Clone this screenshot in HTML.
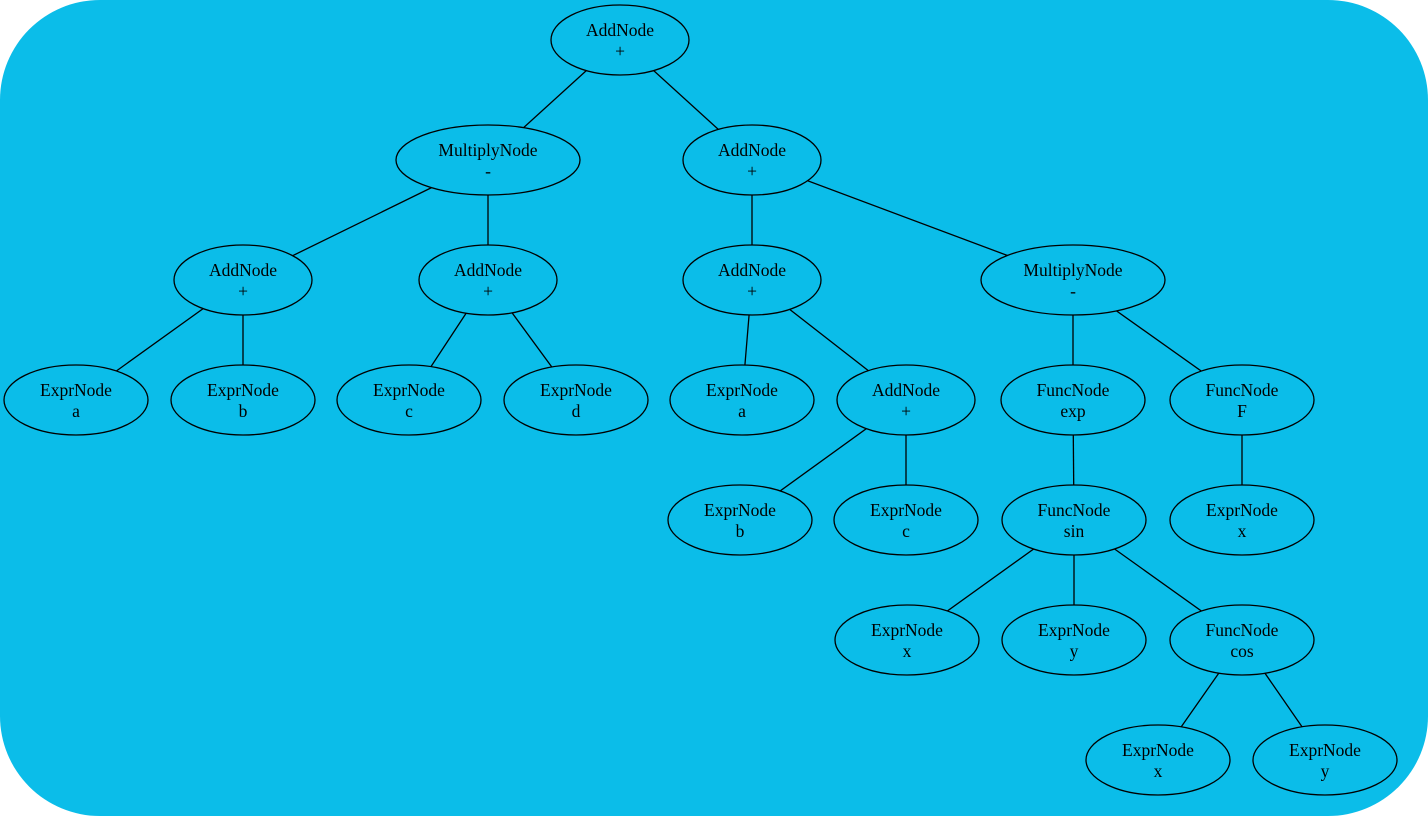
<!DOCTYPE html>
<html><head><meta charset="utf-8"><style>html,body{margin:0;padding:0;background:#fff}svg{display:block}</style></head>
<body>
<svg width="1428" height="816" viewBox="0 0 1428 816" xmlns="http://www.w3.org/2000/svg">
<rect x="0" y="0" width="1428" height="816" rx="100" ry="100" fill="#0bbde9"/>
<g stroke="#000" stroke-width="1.3">
<line x1="620" y1="40" x2="488" y2="160"/>
<line x1="620" y1="40" x2="752" y2="160"/>
<line x1="488" y1="160" x2="243" y2="280"/>
<line x1="488" y1="160" x2="488" y2="280"/>
<line x1="752" y1="160" x2="752" y2="280"/>
<line x1="752" y1="160" x2="1073" y2="280"/>
<line x1="243" y1="280" x2="76" y2="400"/>
<line x1="243" y1="280" x2="243" y2="400"/>
<line x1="488" y1="280" x2="409" y2="400"/>
<line x1="488" y1="280" x2="576" y2="400"/>
<line x1="752" y1="280" x2="742" y2="400"/>
<line x1="752" y1="280" x2="906" y2="400"/>
<line x1="1073" y1="280" x2="1073" y2="400"/>
<line x1="1073" y1="280" x2="1242" y2="400"/>
<line x1="906" y1="400" x2="740" y2="520"/>
<line x1="906" y1="400" x2="906" y2="520"/>
<line x1="1073" y1="400" x2="1074" y2="520"/>
<line x1="1242" y1="400" x2="1242" y2="520"/>
<line x1="1074" y1="520" x2="907" y2="640"/>
<line x1="1074" y1="520" x2="1074" y2="640"/>
<line x1="1074" y1="520" x2="1242" y2="640"/>
<line x1="1242" y1="640" x2="1158" y2="760"/>
<line x1="1242" y1="640" x2="1325" y2="760"/>
</g>
<g fill="#0bbde9" stroke="#000" stroke-width="1.3">
<ellipse cx="620" cy="40" rx="69" ry="35"/>
<ellipse cx="488" cy="160" rx="92" ry="35"/>
<ellipse cx="752" cy="160" rx="69" ry="35"/>
<ellipse cx="243" cy="280" rx="69" ry="35"/>
<ellipse cx="488" cy="280" rx="69" ry="35"/>
<ellipse cx="752" cy="280" rx="69" ry="35"/>
<ellipse cx="1073" cy="280" rx="92" ry="35"/>
<ellipse cx="76" cy="400" rx="72" ry="35"/>
<ellipse cx="243" cy="400" rx="72" ry="35"/>
<ellipse cx="409" cy="400" rx="72" ry="35"/>
<ellipse cx="576" cy="400" rx="72" ry="35"/>
<ellipse cx="742" cy="400" rx="72" ry="35"/>
<ellipse cx="906" cy="400" rx="69" ry="35"/>
<ellipse cx="1073" cy="400" rx="72" ry="35"/>
<ellipse cx="1242" cy="400" rx="72" ry="35"/>
<ellipse cx="740" cy="520" rx="72" ry="35"/>
<ellipse cx="906" cy="520" rx="72" ry="35"/>
<ellipse cx="1074" cy="520" rx="72" ry="35"/>
<ellipse cx="1242" cy="520" rx="72" ry="35"/>
<ellipse cx="907" cy="640" rx="72" ry="35"/>
<ellipse cx="1074" cy="640" rx="72" ry="35"/>
<ellipse cx="1242" cy="640" rx="72" ry="35"/>
<ellipse cx="1158" cy="760" rx="72" ry="35"/>
<ellipse cx="1325" cy="760" rx="72" ry="35"/>
</g>
<g font-family="Liberation Serif, serif" font-size="17.5" text-anchor="middle" fill="#000">
<text x="620" y="36">AddNode</text><text x="620" y="57">+</text>
<text x="488" y="156">MultiplyNode</text><text x="488" y="177">-</text>
<text x="752" y="156">AddNode</text><text x="752" y="177">+</text>
<text x="243" y="276">AddNode</text><text x="243" y="297">+</text>
<text x="488" y="276">AddNode</text><text x="488" y="297">+</text>
<text x="752" y="276">AddNode</text><text x="752" y="297">+</text>
<text x="1073" y="276">MultiplyNode</text><text x="1073" y="297">-</text>
<text x="76" y="396">ExprNode</text><text x="76" y="417">a</text>
<text x="243" y="396">ExprNode</text><text x="243" y="417">b</text>
<text x="409" y="396">ExprNode</text><text x="409" y="417">c</text>
<text x="576" y="396">ExprNode</text><text x="576" y="417">d</text>
<text x="742" y="396">ExprNode</text><text x="742" y="417">a</text>
<text x="906" y="396">AddNode</text><text x="906" y="417">+</text>
<text x="1073" y="396">FuncNode</text><text x="1073" y="417">exp</text>
<text x="1242" y="396">FuncNode</text><text x="1242" y="417">F</text>
<text x="740" y="516">ExprNode</text><text x="740" y="537">b</text>
<text x="906" y="516">ExprNode</text><text x="906" y="537">c</text>
<text x="1074" y="516">FuncNode</text><text x="1074" y="537">sin</text>
<text x="1242" y="516">ExprNode</text><text x="1242" y="537">x</text>
<text x="907" y="636">ExprNode</text><text x="907" y="657">x</text>
<text x="1074" y="636">ExprNode</text><text x="1074" y="657">y</text>
<text x="1242" y="636">FuncNode</text><text x="1242" y="657">cos</text>
<text x="1158" y="756">ExprNode</text><text x="1158" y="777">x</text>
<text x="1325" y="756">ExprNode</text><text x="1325" y="777">y</text>
</g>
</svg>
</body></html>
